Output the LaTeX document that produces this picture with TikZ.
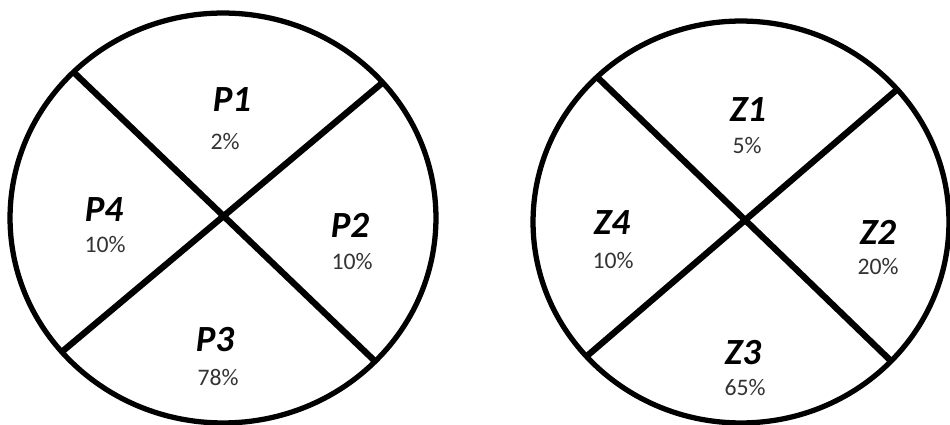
\documentclass[tikz,border=0pt]{standalone}
\usepackage{fontspec}
\setmainfont{Carlito}

\begin{document}
\begin{tikzpicture}[x=0.02cm,y=-0.02cm,
    rim/.style={line width=3pt},
    cut/.style={line width=3.6pt},
    zone/.style={font=\fontsize{21}{21}\selectfont\bfseries\itshape,inner sep=0pt},
    share/.style={font=\fontsize{13.5}{14}\selectfont,text=black!80,inner sep=0pt}]
      \useasboundingbox (0,0) rectangle (950,425);

      % left disc
      \coordinate (pc) at (223,218);
      \draw[rim] (pc) ellipse [x radius=4.26cm, y radius=4.1cm];
      \coordinate (pa1) at ([shift={(134.6:4.26cm and 4.1cm)}]pc);
      \coordinate (pa2) at ([shift={(-44.4:4.26cm and 4.1cm)}]pc);
      \coordinate (pb1) at ([shift={(41.4:4.26cm and 4.1cm)}]pc);
      \coordinate (pb2) at ([shift={(220.8:4.26cm and 4.1cm)}]pc);
      \draw[cut] (pa1) -- (pa2);
      \draw[cut] (pb1) -- (pb2);

      \node[zone] (p1) at (232,100) {P1};
      \node[share] (p1v) at (225,142) {2\%};
      \node[zone] (p4) at (104,210) {P4};
      \node[share] (p4v) at (105,245) {10\%};
      \node[zone] (p2) at (350,225) {P2};
      \node[share] (p2v) at (352,262) {10\%};
      \node[zone] (p3) at (215,340) {P3};
      \node[share] (p3v) at (218,377) {78\%};

      % right disc
      \coordinate (zc) at (741,222);
      \draw[rim] (zc) ellipse [x radius=4.16cm, y radius=4.02cm];
      \coordinate (za1) at ([shift={(133.8:4.16cm and 4.02cm)}]zc);
      \coordinate (za2) at ([shift={(-43.8:4.16cm and 4.02cm)}]zc);
      \coordinate (zb1) at ([shift={(41.3:4.16cm and 4.02cm)}]zc);
      \coordinate (zb2) at ([shift={(222:4.16cm and 4.02cm)}]zc);
      \draw[cut] (za1) -- (za2);
      \draw[cut] (zb1) -- (zb2);

      \node[zone] (z1) at (748,110) {Z1};
      \node[share] (z1v) at (747,146) {5\%};
      \node[zone] (z4) at (612,223) {Z4};
      \node[share] (z4v) at (613,261) {10\%};
      \node[zone] (z2) at (878,232) {Z2};
      \node[share] (z2v) at (878,267) {20\%};
      \node[zone] (z3) at (743,353) {Z3};
      \node[share] (z3v) at (745,388) {65\%};
\end{tikzpicture}
\end{document}
